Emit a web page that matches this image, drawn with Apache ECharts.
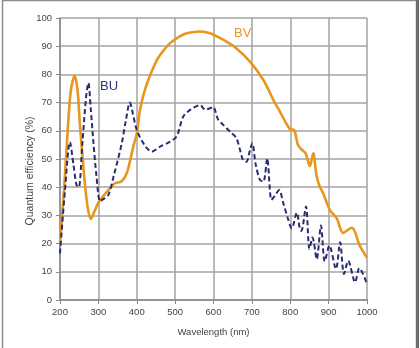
<!DOCTYPE html>
<html><head><meta charset="utf-8">
<script src="https://cdn.jsdelivr.net/npm/echarts@6/dist/echarts.min.js"></script>
<style>html,body{margin:0;padding:0;background:#fff}#c{width:420px;height:348px}</style>
</head><body><div id="c"></div>
<script>
var xTicks = [200,300,400,500,600,700,800,900,1000];
var bvWavelength = [200,210,220,228,238,246,252,258,265,272,280,290,300,320,343,360,374,391,400,408,418,430,452,470,486,510,530,565,591,626,660,695,730,756,773,790,800,810,820,830,840,851,860,868,876,886,903,921,938,960,982,1000];
var bvValues     = [20,38,60,74,79.5,74,62,52,41,33,28.7,31.5,34.5,38,41.4,42,45,54.4,59,67,73,78,85,88.5,91,93.3,94.6,95.2,94.6,92.2,89.2,84.5,78,71,66.8,62.5,60.5,60.3,55,53.3,52,47.5,52,44.5,40.5,37.8,32,29,23.8,25.6,19,15];
var buWavelength = [200,213,226,235,243,249,258,268,274,280,287,295,304,310,326,340,361,372,382,390,400,420,439,461,485,504,521,540,565,578,591,599,612,626,643,660,677,686,693,701,710,721,730,740,751,760,771,782,795,804,817,825,829,841,850,858,869,880,890,902,919,930,940,951,969,980,1000];
var buValues     = [16.5,39,56,48,40.8,40,55,72,77,68,56,44,35,35.5,37.2,44,55.6,64,70,66,60.3,55,52.6,54.4,56,58,65,67.5,69.1,67.5,68,68.5,64,62,59.7,57.3,49.6,49,52,55.6,48,42.6,42,50.2,35.5,37,39,34.3,28.4,25.4,31,25.3,24.5,33.2,18.1,22.2,14.5,26.4,13.7,19.3,11,20.5,9.2,13.9,6.3,11.3,5.7];

function pairs(xs, ys){ return xs.map(function(x,i){return [x, ys[i]];}); }

var chart = echarts.init(document.getElementById('c'));
chart.setOption({
  animation:false,
  backgroundColor:'#fff',
  grid:{left:60,right:53,top:18,bottom:48},
  xAxis:{type:'value',min:200,max:1000,interval:100,
    name:'Wavelength (nm)',nameLocation:'middle',nameGap:27,
    nameTextStyle:{fontSize:9.5,color:'#444',fontFamily:'Liberation Sans'},
    axisLine:{show:true,lineStyle:{color:'#8a8a8a',width:1.5}},
    axisTick:{show:true,length:4,lineStyle:{color:'#8a8a8a'}},
    axisLabel:{fontSize:9.5,color:'#444',margin:7,fontFamily:'Liberation Sans',formatter:function(v){return String(v);}},
    splitLine:{show:true,lineStyle:{color:'#a3a3a3',width:1.5}}},
  yAxis:{type:'value',min:0,max:100,interval:10,
    axisLine:{show:true,lineStyle:{color:'#8a8a8a',width:1.5}},
    axisTick:{show:true,length:4,lineStyle:{color:'#8a8a8a'}},
    axisLabel:{fontSize:9.5,color:'#444',margin:8,fontFamily:'Liberation Sans',formatter:function(v){return String(v);}},
    splitLine:{show:true,lineStyle:{color:'#a3a3a3',width:1.5}}},
  graphic:[
    {type:'rect',shape:{x:2.5,y:0.5,width:414,height:360},style:{fill:'none',stroke:'#8c8c8c',lineWidth:1.5},silent:true},
    {type:'rect',shape:{x:416,y:0,width:3,height:348},style:{fill:'#6a6a6a'},silent:true},
    {type:'text',rotation:Math.PI/2,style:{text:'Quantum efficiency (%)',fontSize:10.5,fill:'#444',fontFamily:'Liberation Sans',textAlign:'center',textVerticalAlign:'middle'},silent:true,
      x:30,y:171},
    {type:'text',left:100,top:80,style:{text:'BU',fontSize:13,fill:'#2e3480',fontFamily:'Liberation Sans'}},
    {type:'text',left:234,top:27,style:{text:'BV',fontSize:13,fill:'#e49a2e',fontFamily:'Liberation Sans'}}
  ],
  series:[
    {type:'line',data:pairs(bvWavelength,bvValues),smooth:0.3,showSymbol:false,
      lineStyle:{color:'#e8961e',width:2.6},z:3},
    {type:'line',data:pairs(buWavelength,buValues),smooth:0.3,showSymbol:false,
      lineStyle:{color:'#2b2b6e',width:2,type:[5,3]},z:4}
  ]
});
</script></body></html>
